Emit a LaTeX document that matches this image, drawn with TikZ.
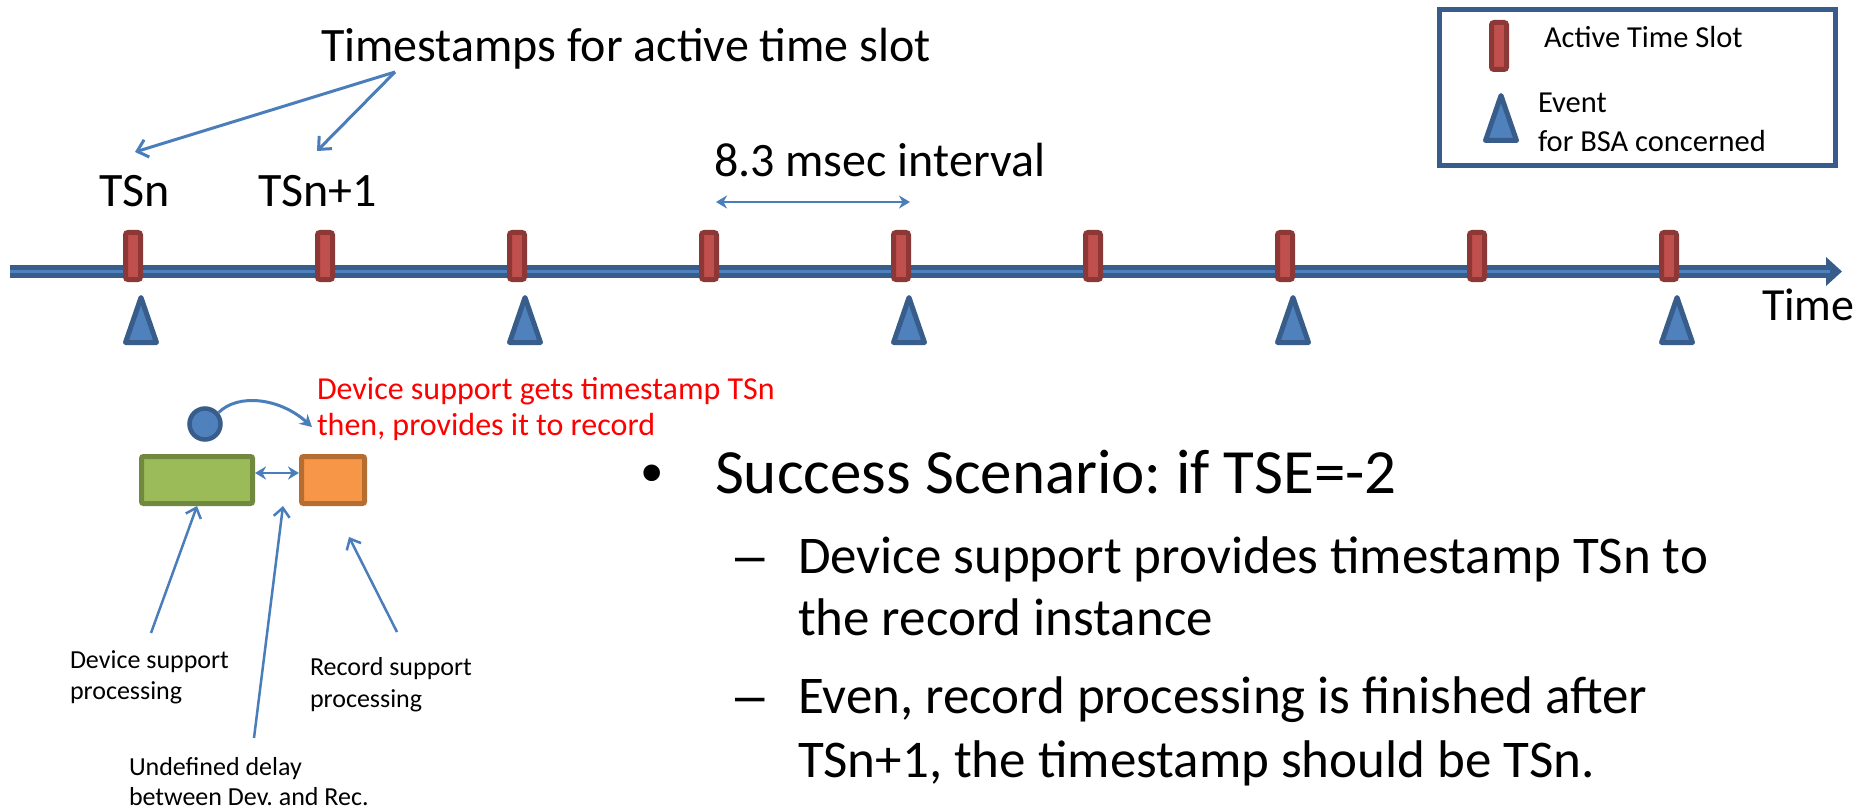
\documentclass[tikz,border=0pt]{standalone}
\usepackage{fontspec}
\setmainfont{Carlito}
\newfontfamily\symfont{Liberation Sans}
\usetikzlibrary{arrows.meta}
\frenchspacing

\definecolor{tldark}{HTML}{385D8A}
\definecolor{tllight}{HTML}{4F81BD}
\definecolor{slotfill}{HTML}{C0504D}
\definecolor{slotedge}{HTML}{8C3836}
\definecolor{conn}{HTML}{4A7EBB}
\definecolor{greenfill}{HTML}{9BBB59}
\definecolor{greenedge}{HTML}{71893F}
\definecolor{orangefill}{HTML}{F79646}
\definecolor{orangeedge}{HTML}{B66D31}

\tikzset{
  txt/.style={inner sep=0pt, outer sep=0pt, anchor=base west},
  bigtxt/.style={txt, font=\fontsize{48}{57}\selectfont},
  legtxt/.style={txt, font=\fontsize{30.5}{36}\selectfont},
  redtxt/.style={txt, text=red, font=\fontsize{32}{38}\selectfont},
  smalltxt/.style={txt, font=\fontsize{26}{31}\selectfont},
  headtxt/.style={txt, font=\fontsize{63}{75}\selectfont},
  subtxt/.style={txt, font=\fontsize{53}{64}\selectfont},
  slotmark/.style={draw=slotedge, fill=slotfill, line width=5pt, rounded corners=2.5pt,
    minimum width=15pt, minimum height=47pt, inner sep=0pt},
  eventmark/.pic={\draw[draw=tldark, fill=tllight, line width=5pt, line join=round]
    (0,-22.5) -- (15.5,22.5) -- (-15.5,22.5) -- cycle;},
  pointer/.style={draw=conn, line width=3pt, -{Straight Barb[length=10pt,width=18pt]}},
  thinpointer/.style={draw=conn, line width=2.5pt, -{Straight Barb[length=9pt,width=16pt]}},
  twoway/.style={draw=conn, line width=2.5pt, {Stealth[length=11pt,width=13pt]}-{Stealth[length=11pt,width=13pt]}},
  procbox/.style={line width=5pt, minimum height=47pt, inner sep=0pt, rounded corners=2pt},
}

\begin{document}
\begin{tikzpicture}[x=1pt,y=-1pt]
  \fill[white] (0,0) rectangle (1862,810);
  \useasboundingbox (0,0) rectangle (1862,810);

  % time axis
  \coordinate (tl0) at (10,271.5);
  \coordinate (tl1) at (1842,271.5);
  \draw[tldark, line width=13pt, -{Triangle[length=16pt,width=28pt]}] (tl0) -- (tl1);
  \draw[tllight, line width=3.5pt] (tl0) -- ([xshift=-12pt]tl1);
  \node[txt, font=\fontsize{46}{55}\selectfont] (timelbl) at (1762,320) {Time};

  % active time slots, 192 px apart
  \foreach \i in {0,...,8} {
    \node[slotmark] (slot\i) at (133+192*\i,256) {};
  }
  % events for BSA concerned, every second slot
  \foreach \i in {0,2,4,6,8} {
    \pic at (141+192*\i,320) {eventmark};
  }

  % timestamp labels
  \node[bigtxt] (ts) at (321,62) {Timestamps for active time slot};
  \node[bigtxt] (tsn) at (99,207) {TSn};
  \node[bigtxt] (tsn1) at (258,207) {TSn+1};
  \coordinate (tsfrom) at (395,72);
  \coordinate (tsnto) at (135,152);
  \coordinate (tsn1to) at (317,151);
  \draw[pointer] (tsfrom) -- (tsnto);
  \draw[pointer] (tsfrom) -- (tsn1to);

  % interval marker
  \node[bigtxt] (interval) at (714,177) {8.3 msec interval};
  \coordinate (ivl) at (716,202);
  \coordinate (ivr) at (910,202);
  \draw[twoway, line width=2pt] (ivl) -- (ivr);

  % legend
  \draw[tldark, line width=5pt] (1439.5,9.5) rectangle (1835.5,165.5);
  \node[slotmark] (legslot) at (1499,46) {};
  \pic at (1501,118) {eventmark};
  \node[legtxt] (legslottxt) at (1544,48) {Active Time Slot};
  \node[legtxt] (legevtxt) at (1538,113) {Event};
  \node[legtxt] (legevtxt2) at (1538,152) {for BSA concerned};

  % processing sketch
  \node[procbox, draw=greenedge, fill=greenfill, minimum width=111pt] (green) at (197,480) {};
  \node[procbox, draw=orangeedge, fill=orangefill, minimum width=63pt] (orange) at (333,480) {};
  \node[circle, draw=tldark, fill=tllight, line width=4.5pt, minimum size=31pt, inner sep=0pt] (dot) at (205,424) {};
  \draw[twoway] ([yshift=7pt]green.east) -- ([yshift=7pt]orange.west);
  \coordinate (redtip) at (312,427);
  \draw[draw=conn, line width=3pt, -{Stealth[length=12pt,width=13pt]}]
    (dot.40) .. controls (238,393) and (280,398) .. (redtip);
  \node[redtxt] (red1) at (317,399) {Device support gets timestamp TSn};
  \node[redtxt] (red2) at (317,435) {then, provides it to record};

  \node[smalltxt] (dev1) at (70,668) {Device support};
  \node[smalltxt] (dev2) at (70,699) {processing};
  \node[smalltxt] (rec1) at (310,675) {Record support};
  \node[smalltxt] (rec2) at (310,707) {processing};
  \node[smalltxt] (und1) at (129,775) {Undefined delay};
  \node[smalltxt] (und2) at (129,805) {between Dev. and Rec.};
  \coordinate (devfoot) at (151,633);
  \coordinate (undfoot) at (254,738);
  \coordinate (undtip) at (283,506);
  \coordinate (recfoot) at (397,632);
  \coordinate (rectip) at (349,537);
  \draw[thinpointer] (devfoot) -- (green.south);
  \draw[thinpointer] (undfoot) -- (undtip);
  \draw[thinpointer] (recfoot) -- (rectip);

  % scenario text
  \node[txt, font=\symfont\fontsize{61}{73}\selectfont] (bul) at (641,493) {•};
  \node[headtxt] (head) at (715,493) {Success Scenario: if TSE=-2};
  \node[txt, font=\symfont\fontsize{53}{64}\selectfont] (dash1) at (735,573) {–};
  \node[subtxt] (sub1a) at (798,573) {Device support provides timestamp TSn to};
  \node[subtxt] (sub1b) at (798,635) {the record instance};
  \node[txt, font=\symfont\fontsize{53}{64}\selectfont] (dash2) at (735,713) {–};
  \node[subtxt] (sub2a) at (798,713) {Even, record processing is finished after};
  \node[subtxt] (sub2b) at (798,777) {TSn+1, the timestamp should be TSn.};
\end{tikzpicture}
\end{document}
